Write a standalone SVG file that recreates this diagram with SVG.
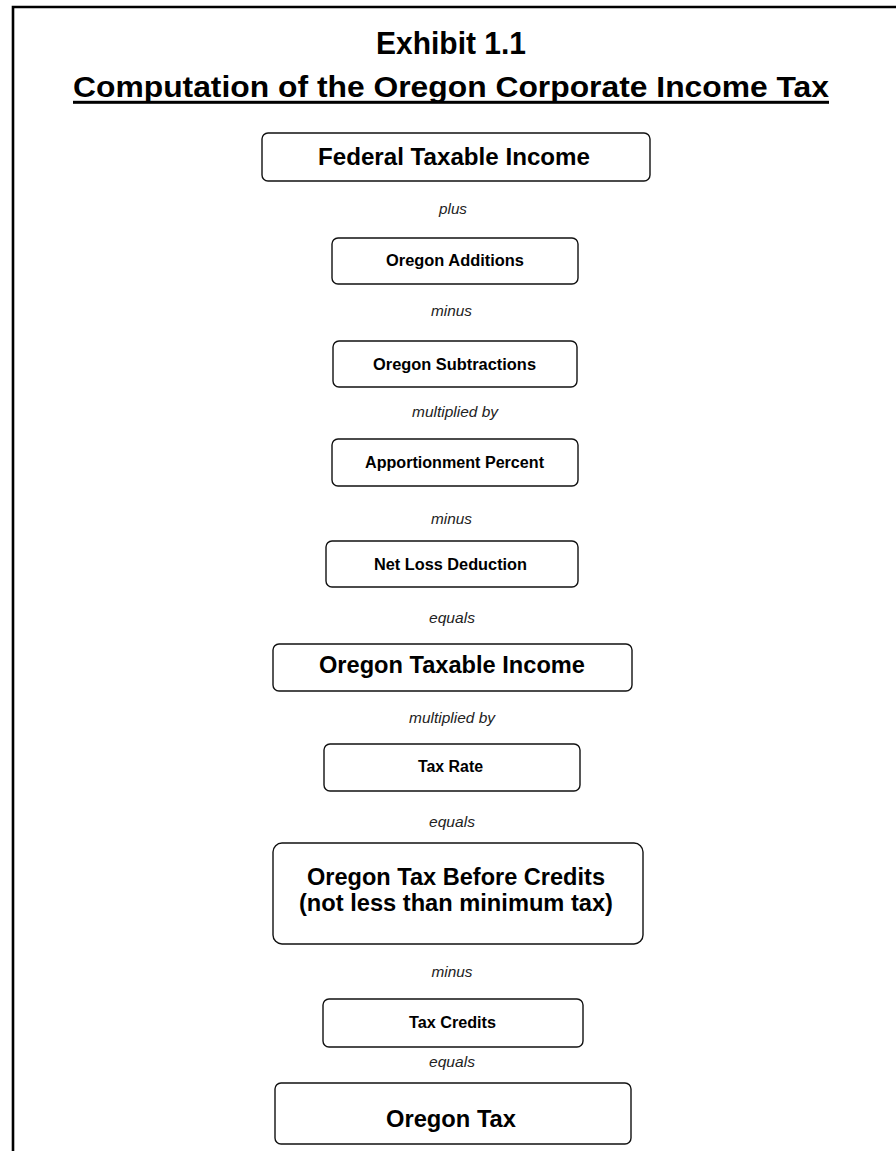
<svg xmlns="http://www.w3.org/2000/svg" width="896" height="1151" viewBox="0 0 896 1151">
<style>
.frame{fill:none;stroke:#000;stroke-width:2.6}
.box{fill:#fff;stroke:#111;stroke-width:1.4}
text{font-family:"Liberation Sans",Arial,sans-serif;fill:#000;text-anchor:middle}
.t{font-weight:bold}
.lbl{font-style:italic;font-size:15.4px;fill:#222}
.s{font-size:16px}
.l{font-size:23.5px}
</style>
<rect width="896" height="1151" fill="#fff"/>
<path class="frame" d="M13,1151 V7 H896"/>
<g id="title">
<text class="t" x="451" y="54.3" font-size="30.5" textLength="150" lengthAdjust="spacingAndGlyphs">Exhibit 1.1</text>
<text class="t" x="451" y="97.3" font-size="29" textLength="756" lengthAdjust="spacingAndGlyphs">Computation of the Oregon Corporate Income Tax</text>
<rect x="73" y="100.8" width="756" height="3" fill="#000"/>
</g>
<g id="connectors">
<text class="lbl" x="453" y="214" textLength="28" lengthAdjust="spacingAndGlyphs">plus</text>
<text class="lbl" x="451.5" y="316" textLength="41" lengthAdjust="spacingAndGlyphs">minus</text>
<text class="lbl" x="455" y="417" textLength="86" lengthAdjust="spacingAndGlyphs">multiplied by</text>
<text class="lbl" x="451.5" y="524" textLength="41" lengthAdjust="spacingAndGlyphs">minus</text>
<text class="lbl" x="452" y="623" textLength="46" lengthAdjust="spacingAndGlyphs">equals</text>
<text class="lbl" x="452" y="723" textLength="86" lengthAdjust="spacingAndGlyphs">multiplied by</text>
<text class="lbl" x="452" y="827" textLength="46" lengthAdjust="spacingAndGlyphs">equals</text>
<text class="lbl" x="452" y="977" textLength="41" lengthAdjust="spacingAndGlyphs">minus</text>
<text class="lbl" x="452" y="1067" textLength="46" lengthAdjust="spacingAndGlyphs">equals</text>
</g>
<g id="federal-taxable-income">
<rect class="box" x="262" y="133" width="388" height="48" rx="6"/>
<text class="t" x="454" y="165" font-size="23.5" textLength="272" lengthAdjust="spacingAndGlyphs">Federal Taxable Income</text>
</g>
<g id="oregon-additions">
<rect class="box" x="332" y="238" width="246" height="46" rx="6"/>
<text class="t s" x="455" y="265.7" textLength="138" lengthAdjust="spacingAndGlyphs">Oregon Additions</text>
</g>
<g id="oregon-subtractions">
<rect class="box" x="333" y="341" width="244" height="46" rx="6"/>
<text class="t s" x="454.5" y="369.5" textLength="163" lengthAdjust="spacingAndGlyphs">Oregon Subtractions</text>
</g>
<g id="apportionment-percent">
<rect class="box" x="332" y="439" width="246" height="47" rx="6"/>
<text class="t s" x="454.5" y="468" textLength="179" lengthAdjust="spacingAndGlyphs">Apportionment Percent</text>
</g>
<g id="net-loss-deduction">
<rect class="box" x="326" y="541" width="252" height="46" rx="6"/>
<text class="t s" x="450.5" y="569.5" textLength="153" lengthAdjust="spacingAndGlyphs">Net Loss Deduction</text>
</g>
<g id="oregon-taxable-income">
<rect class="box" x="273" y="644" width="359" height="47" rx="6"/>
<text class="t l" x="452" y="673" textLength="266" lengthAdjust="spacingAndGlyphs">Oregon Taxable Income</text>
</g>
<g id="tax-rate">
<rect class="box" x="324" y="744" width="256" height="47" rx="6"/>
<text class="t s" x="450.5" y="772" textLength="65" lengthAdjust="spacingAndGlyphs">Tax Rate</text>
</g>
<g id="oregon-tax-before-credits">
<rect class="box" x="273" y="843" width="370" height="101" rx="9"/>
<text class="t l" x="456" y="884.5" textLength="298" lengthAdjust="spacingAndGlyphs">Oregon Tax Before Credits</text>
<text class="t l" x="456" y="911" textLength="314" lengthAdjust="spacingAndGlyphs">(not less than minimum tax)</text>
</g>
<g id="tax-credits">
<rect class="box" x="323" y="999" width="260" height="48" rx="6"/>
<text class="t s" x="452.5" y="1028" textLength="87" lengthAdjust="spacingAndGlyphs">Tax Credits</text>
</g>
<g id="oregon-tax">
<rect class="box" x="275" y="1083" width="356" height="61" rx="6"/>
<text class="t l" x="451" y="1127" textLength="130" lengthAdjust="spacingAndGlyphs">Oregon Tax</text>
</g>
</svg>
